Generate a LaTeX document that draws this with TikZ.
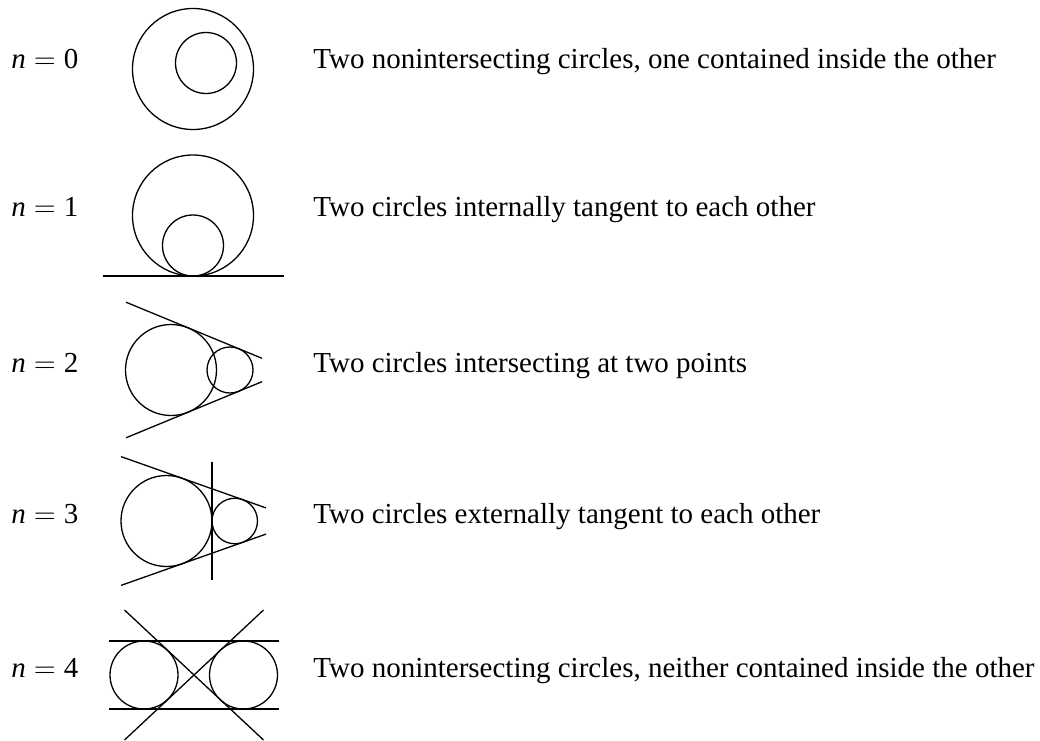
\documentclass[tikz,border=0pt]{standalone}
\usepackage{fontspec}
\setmainfont{Liberation Serif}
\usetikzlibrary{positioning}

\newcommand{\casen}[1]{$\textit{n} = \mbox{#1}$}

\begin{document}
\begin{tikzpicture}[
    x=0.5pt, y=0.5pt,
    every node/.style={font=\fontsize{14.5}{17}\selectfont, inner sep=0pt},
    case/.style={anchor=base west},
    info/.style={anchor=base west},
    curve/.style={line width=0.65pt}
]
\useasboundingbox (0,0) rectangle (1040,-740);

\node[case] (n0) at (11,-68) {\casen{0}};
\node[case] (n1) at (11,-216) {\casen{1}};
\node[case] (n2) at (11,-372) {\casen{2}};
\node[case] (n3) at (11,-523) {\casen{3}};
\node[case] (n4) at (11,-677) {\casen{4}};

\node[info] (d0) at (313,-68) {Two nonintersecting circles, one contained inside the other};
\node[info] (d1) at (313,-216) {Two circles internally tangent to each other};
\node[info] (d2) at (313,-372) {Two circles intersecting at two points};
\node[info] (d3) at (313,-523) {Two circles externally tangent to each other};
\node[info] (d4) at (313,-677) {Two nonintersecting circles, neither contained inside the other};

% n = 0
\draw[curve] (193,-69) circle[radius=60.5];
\draw[curve] (206,-63) circle[radius=30.5];

% n = 1
\draw[curve] (193,-215.5) circle[radius=60.5];
\draw[curve] (193,-245.5) circle[radius=30.5];
\draw[curve] (103,-276) -- (284,-276);

% n = 2
\draw[curve] (171,-370) circle[radius=45.5];
\draw[curve] (230,-370) circle[radius=23];
\draw[curve] (126,-302.2) -- (262,-358.3);
\draw[curve] (126,-437.8) -- (262,-381.7);

% n = 3
\draw[curve] (166.5,-521) circle[radius=45.5];
\draw[curve] (234.75,-521) circle[radius=22.75];
\draw[curve] (212,-462) -- (212,-580);
\draw[curve] (121,-456.6) -- (266,-507.9);
\draw[curve] (121,-585.4) -- (266,-534.1);

% n = 4
\draw[curve] (144,-675) circle[radius=34];
\draw[curve] (243.5,-675) circle[radius=34];
\draw[curve] (109,-641) -- (279,-641);
\draw[curve] (109,-709) -- (279,-709);
\draw[curve] (124.5,-610) -- (263.5,-740);
\draw[curve] (263.5,-610) -- (124.5,-740);

\end{tikzpicture}
\end{document}
